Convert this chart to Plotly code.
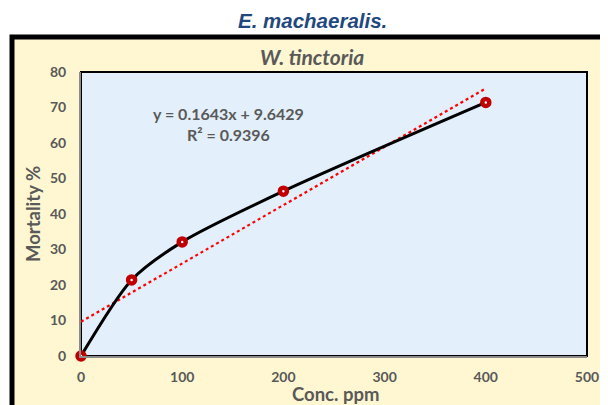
import plotly.graph_objects as go

# ---- data ----
conc = [0, 50, 100, 200, 400]
mortality = [0, 21.43, 32.14, 46.43, 71.43]
trend_slope = 0.1643
trend_intercept = 9.6429
trend_x = [0, 400]
x_ticks = [0, 100, 200, 300, 400, 500]
y_ticks = [0, 10, 20, 30, 40, 50, 60, 70, 80]
equation_text = "y = 0.1643x + 9.6429<br>R² = 0.9396"

# page body has an 8px margin, so the figure is drawn offset by (8, 8)
OFF = 8
W, H = 608 - OFF, 405 - OFF
PL, PR, PT, PB = 81, 587, 72, 356          # plot area in window pixels
L, R, T, B = PL - OFF, W - (PR - OFF), PT - OFF, H - (PB - OFF)
pw, ph = W - L - R, H - T - B

def px(x):
    return (x - OFF - L) / pw

def py(y):
    return (H - B - (y - OFF)) / ph

gray = "#595959"
font_main = "Lato"

fig = go.Figure()

fig.add_trace(go.Scatter(
    x=trend_x, y=[trend_slope * x + trend_intercept for x in trend_x],
    mode="lines", line=dict(color="#FF0000", width=2.2, dash="dot"),
    hoverinfo="skip", showlegend=False, cliponaxis=False,
))
fig.add_trace(go.Scatter(
    x=conc, y=mortality, mode="lines+markers",
    line=dict(color="black", width=3, shape="spline", smoothing=0.75),
    marker=dict(symbol="circle", size=7, color="white",
                line=dict(color="#C00000", width=4.5)),
    showlegend=False, cliponaxis=False,
))

fig.update_layout(
    width=W, height=H,
    margin=dict(l=L, r=R, t=T, b=B, pad=0, autoexpand=False),
    paper_bgcolor="white",
    plot_bgcolor="rgba(0,0,0,0)",
    showlegend=False,
    xaxis=dict(range=[0, 500], tickvals=x_ticks, showgrid=False, zeroline=False,
               automargin=False,
               showline=True, linecolor="#8C8C8C", linewidth=2,
               ticks="outside", ticklen=7, tickcolor="rgba(0,0,0,0)",
               tickfont=dict(family=font_main, size=14, color=gray, weight="bold")),
    yaxis=dict(range=[0, 80], tickvals=y_ticks, showgrid=False, zeroline=False,
               automargin=False,
               showline=True, linecolor="#8C8C8C", linewidth=2,
               ticks="outside", ticklen=10, tickcolor="rgba(0,0,0,0)",
               tickfont=dict(family=font_main, size=14, color=gray, weight="bold")),
    shapes=[
        dict(type="rect", xref="paper", yref="paper", layer="below",
             x0=px(12), x1=px(640), y0=py(440), y1=py(37),
             fillcolor="#FFF7D1", line=dict(color="black", width=5)),
        dict(type="rect", xref="paper", yref="paper", layer="below",
             x0=0, x1=1, y0=0, y1=1,
             fillcolor="#E3EFFB", line=dict(color="black", width=2)),
    ],
    annotations=[
        dict(text="<b><i>E. machaeralis.</i></b>", xref="paper", yref="paper",
             x=px(312), y=py(21), xanchor="center", yanchor="middle", showarrow=False,
             font=dict(family="Liberation Sans", size=20.5, color="#1F497D")),
        dict(text="<b><i>W. tinctoria</i></b>", xref="paper", yref="paper",
             x=px(312), y=py(57), xanchor="center", yanchor="middle", showarrow=False,
             font=dict(family=font_main, size=21, color=gray)),
        dict(text="<b>" + equation_text + "</b>", xref="paper", yref="paper",
             x=px(228), y=py(124), xanchor="center", yanchor="middle",
             showarrow=False, align="center",
             font=dict(family=font_main, size=16, color=gray)),
        dict(text="<b>Conc. ppm</b>", xref="paper", yref="paper",
             x=px(335), y=py(394), xanchor="center", yanchor="middle", showarrow=False,
             font=dict(family=font_main, size=18.5, color=gray)),
        dict(text="<b>Mortality %</b>", xref="paper", yref="paper", textangle=-90,
             x=px(33), y=py(214), xanchor="center", yanchor="middle", showarrow=False,
             font=dict(family=font_main, size=18.5, color=gray)),
    ],
)

fig.write_html("out.html")
